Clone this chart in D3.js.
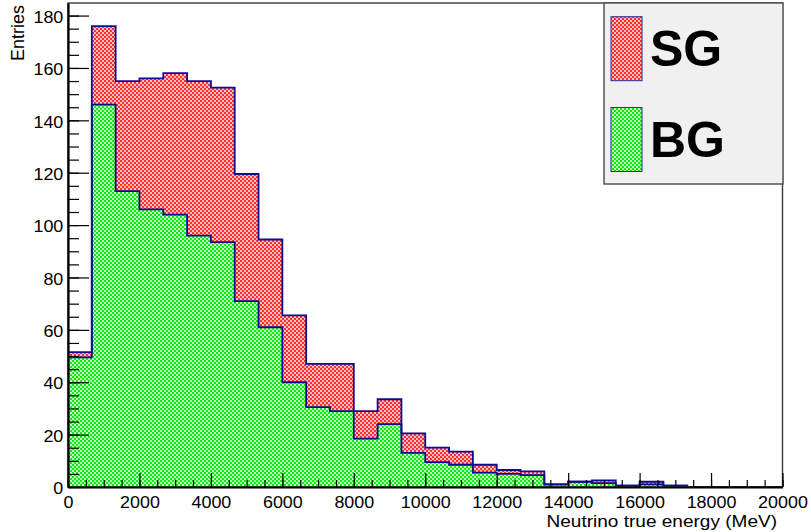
<!DOCTYPE html>
<html>
<head>
<meta charset="utf-8">
<script src="https://cdn.jsdelivr.net/npm/d3@7"></script>
<style>
  html, body { margin: 0; padding: 0; background: #ffffff; }
  svg { display: block; font-family: "Liberation Sans", Arial, Helvetica, sans-serif; }
</style>
</head>
<body>
<svg id="chart" width="811" height="532"></svg>
<script>
// Histogram binning: 30 equal bins over the energy range (MeV)
const energyRange = [0, 20000];
const nBins = 30;

// Per-bin entries for each stacked component
const bgCounts = [49.5, 146, 113, 106, 104, 96, 93.5, 71, 61, 40,
                  30.5, 29, 18.5, 24, 13, 9.5, 8.5, 5.5, 5, 4.5,
                  1, 2, 1.5, 0.5, 1, 0.5, 0, 0, 0, 0];
const sgCounts = [2, 30, 42, 50, 54, 59, 59, 48.5, 33.5, 25.5,
                  16.5, 18, 10.5, 9.5, 7.5, 5.5, 5, 3, 1.5, 1.5,
                  0, 0, 1, 0, 1, 0, 0, 0, 0, 0];

// Axis ticks
const xMajorTicks = [0, 2000, 4000, 6000, 8000, 10000, 12000, 14000, 16000, 18000, 20000];
const yMajorTicks = [0, 20, 40, 60, 80, 100, 120, 140, 160, 180];
const yMax = 184.8;

const legendLabels = ["SG", "BG"];

const svg = d3.select("#chart");
const frame = { left: 68, right: 782.5, top: 3, bottom: 487 };
const textStretch = 1.12;   // axis text is drawn slightly wide

const x = d3.scaleLinear().domain(energyRange).range([frame.left, frame.right]);
const y = d3.scaleLinear().domain([0, yMax]).range([frame.bottom, frame.top]);

const binWidth = (energyRange[1] - energyRange[0]) / nBins;
const edge = i => energyRange[0] + i * binWidth;

// stacked totals: BG at the bottom, SG on top
const totals = bgCounts.map((b, i) => b + sgCounts[i]);

// checkered pattern fills
const defs = svg.append("defs");
function checker(id, dark, light) {
  const p = defs.append("pattern").attr("id", id)
    .attr("width", 4).attr("height", 4).attr("patternUnits", "userSpaceOnUse");
  p.append("rect").attr("width", 4).attr("height", 4).attr("fill", light);
  p.append("rect").attr("width", 2).attr("height", 2).attr("fill", dark);
  p.append("rect").attr("x", 2).attr("y", 2).attr("width", 2).attr("height", 2).attr("fill", dark);
}
checker("redFill", "#ff2e2e", "#ffbcbc");
checker("greenFill", "#14e814", "#b8ffb8");

defs.append("clipPath").attr("id", "plotClip")
  .append("rect")
  .attr("x", frame.left).attr("y", frame.top)
  .attr("width", frame.right - frame.left).attr("height", frame.bottom - frame.top);

// step outline points for a histogram
function stepPoints(values) {
  const pts = [{ e: edge(0), v: 0 }];
  values.forEach((v, i) => {
    pts.push({ e: edge(i), v: v });
    pts.push({ e: edge(i + 1), v: v });
  });
  pts.push({ e: edge(values.length), v: 0 });
  return pts;
}

const area = d3.area().x(d => x(d.e)).y0(y(0)).y1(d => y(d.v));
const line = d3.line().x(d => x(d.e)).y(d => y(d.v));

const plot = svg.append("g").attr("clip-path", "url(#plotClip)");
const outlineColor = "#0b0b96";

plot.append("path").datum(stepPoints(totals))
  .attr("d", area).attr("fill", "url(#redFill)");
plot.append("path").datum(stepPoints(bgCounts))
  .attr("d", area).attr("fill", "url(#greenFill)");
plot.append("path").datum(stepPoints(totals))
  .attr("d", line).attr("fill", "none")
  .attr("stroke", outlineColor).attr("stroke-width", 1.8);
plot.append("path").datum(stepPoints(bgCounts))
  .attr("d", line).attr("fill", "none")
  .attr("stroke", outlineColor).attr("stroke-width", 1.8);

// frame (top and right sides)
svg.append("rect")
  .attr("x", frame.left).attr("y", frame.top)
  .attr("width", frame.right - frame.left).attr("height", frame.bottom - frame.top)
  .attr("fill", "none").attr("stroke", "#3a3a3a").attr("stroke-width", 1.4);

// x axis: minor ticks every 500, major every 2000, ticks pointing into the plot
const xMinor = d3.range(energyRange[0], energyRange[1] + 1, 500);
svg.append("g").attr("transform", `translate(0,${frame.bottom})`)
  .call(d3.axisBottom(x).tickValues(xMinor).tickSize(-7).tickFormat(""))
  .call(g => g.select(".domain").remove())
  .call(g => g.selectAll("line").attr("stroke", "#000").attr("stroke-width", 1.2));

const xAxis = svg.append("g").attr("transform", `translate(0,${frame.bottom})`)
  .call(d3.axisBottom(x).tickValues(xMajorTicks).tickSize(-14).tickSizeOuter(0)
    .tickPadding(9.5).tickFormat(d3.format("d")));
xAxis.select(".domain").attr("stroke", "#000").attr("stroke-width", 2.2);
xAxis.selectAll("line").attr("stroke", "#000").attr("stroke-width", 1.2);
xAxis.selectAll("text").attr("font-size", 16).attr("fill", "#000")
  .attr("font-family", "Liberation Sans, Arial, sans-serif")
  .attr("transform", `scale(${textStretch},1)`);

// y axis: minor ticks every 5, major every 20
const yMinor = d3.range(0, 181, 5);
svg.append("g").attr("transform", `translate(${frame.left},0)`)
  .call(d3.axisLeft(y).tickValues(yMinor).tickSize(-11).tickFormat(""))
  .call(g => g.select(".domain").remove())
  .call(g => g.selectAll("line").attr("stroke", "#000").attr("stroke-width", 1.2));

const yAxis = svg.append("g").attr("transform", `translate(${frame.left},0)`)
  .call(d3.axisLeft(y).tickValues(yMajorTicks).tickSize(-21).tickSizeOuter(0)
    .tickPadding(4.2).tickFormat(d3.format("d")));
yAxis.select(".domain").attr("stroke", "#000").attr("stroke-width", 2.2);
yAxis.selectAll("line").attr("stroke", "#000").attr("stroke-width", 1.2);
yAxis.selectAll("text").attr("font-size", 16).attr("fill", "#000").attr("dy", "0.42em")
  .attr("font-family", "Liberation Sans, Arial, sans-serif")
  .attr("transform", `scale(${textStretch},1)`);

// axis titles
svg.append("text")
  .attr("transform", `translate(777,527) scale(${textStretch},1)`)
  .attr("text-anchor", "end").attr("font-size", 17).attr("fill", "#000")
  .text("Neutrino true energy (MeV)");

svg.append("text")
  .attr("transform", "translate(24,5) rotate(-90)")
  .attr("text-anchor", "end").attr("font-size", 18).attr("fill", "#000")
  .text("Entries");

// legend
const legend = svg.append("g");
legend.append("rect")
  .attr("x", 604).attr("y", 3).attr("width", 179).attr("height", 181)
  .attr("fill", "#f0f0f0").attr("stroke", "#4a4a4a").attr("stroke-width", 1.4);

const legendFills = ["url(#redFill)", "url(#greenFill)"];
const legendY = d3.scalePoint().domain(legendLabels).range([48.7, 139.5]);

legendLabels.forEach((lab, i) => {
  const cy = legendY(lab);
  legend.append("rect")
    .attr("x", 611).attr("y", cy - 32).attr("width", 31).attr("height", 64)
    .attr("fill", legendFills[i]).attr("stroke", "#2a2aa0").attr("stroke-width", 1);
  legend.append("text")
    .attr("x", 650).attr("y", cy + 17.5)
    .attr("font-size", 50).attr("font-weight", "bold").attr("fill", "#000")
    .text(lab);
});
</script>
</body>
</html>
